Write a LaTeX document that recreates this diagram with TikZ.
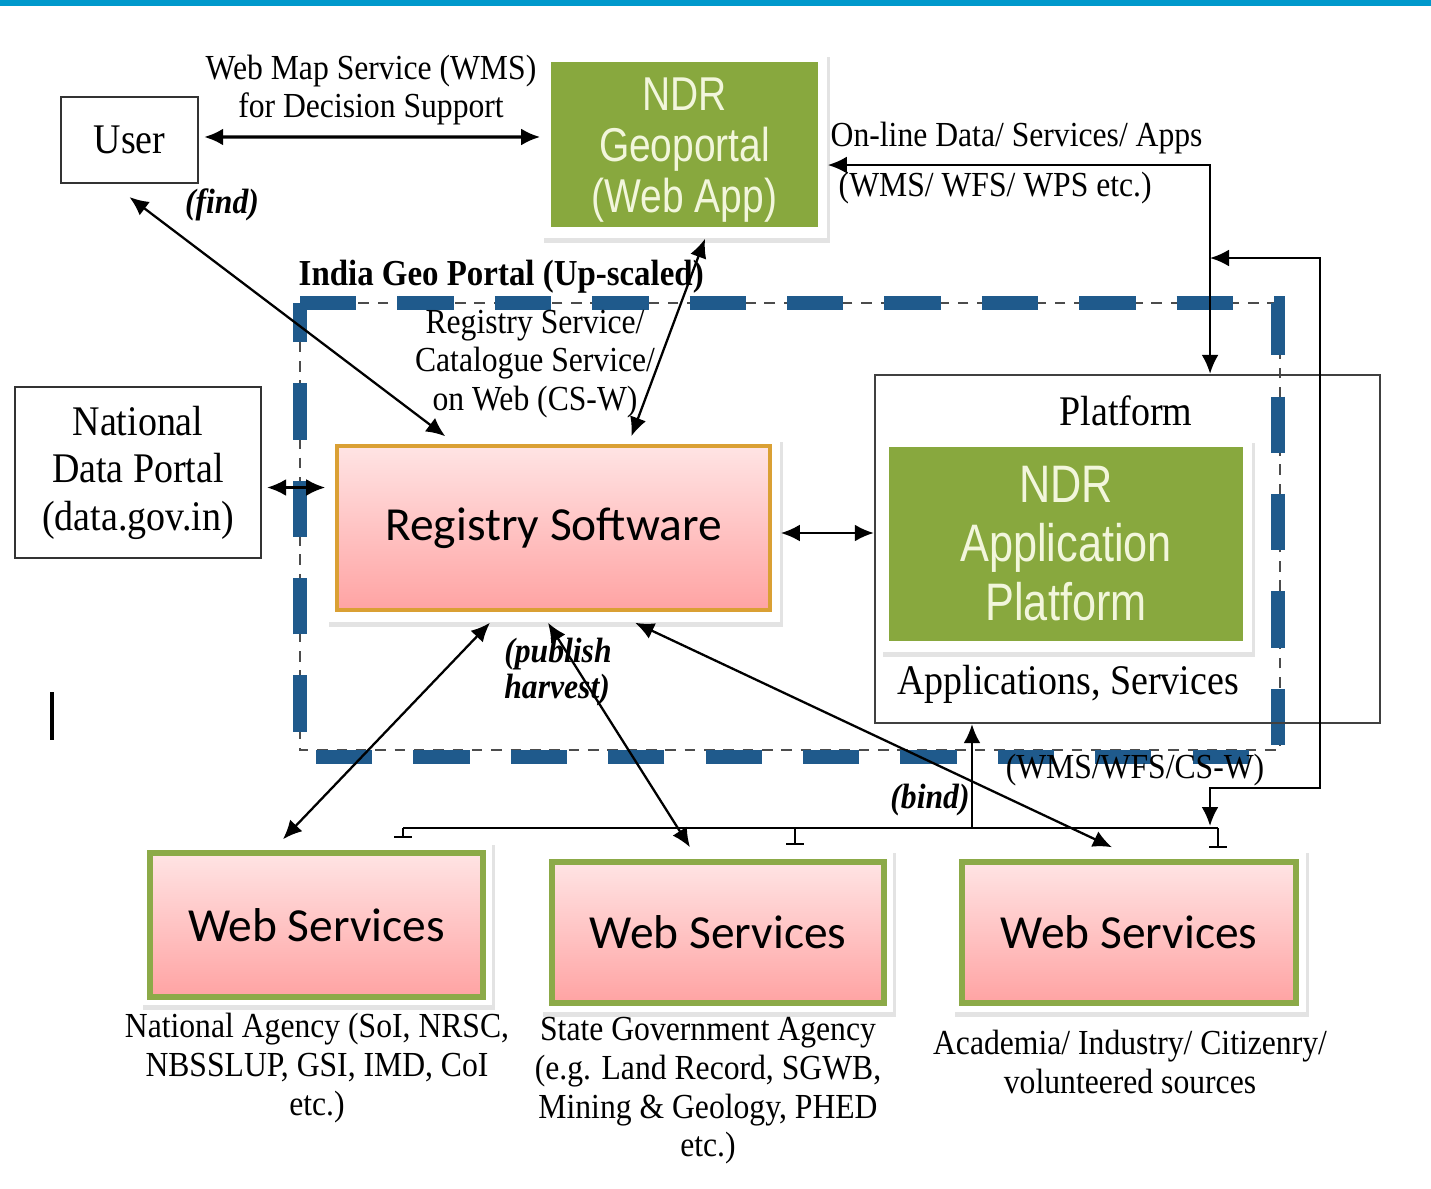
\documentclass[tikz,border=0pt]{standalone}
\usepackage{fontspec}
\setmainfont[FakeStretch=0.9]{Liberation Serif}
\newfontfamily\ndrfont[FakeStretch=0.82]{Liberation Sans}
\newfontfamily\calfont{Carlito}
\usetikzlibrary{arrows.meta,shadows}
\definecolor{ndrgreen}{RGB}{136,168,62}
\definecolor{ndrtext}{RGB}{242,246,220}
\definecolor{wsgreen}{RGB}{140,170,72}
\definecolor{pinktop}{RGB}{255,228,228}
\definecolor{pinkbot}{RGB}{255,163,163}
\definecolor{regborder}{RGB}{218,160,52}
\definecolor{igpblue}{RGB}{31,90,140}
\definecolor{topband}{RGB}{0,153,204}

\begin{document}
\begin{tikzpicture}[x=0.01cm, y=-0.01cm, every node/.style={font=\fontsize{10}{11}\selectfont},
	lbl/.style={align=center, inner sep=0pt},
	wbox/.style={draw=black!80, line width=0.6pt, fill=white, align=center, inner sep=0pt},
	frm/.style={fill=white, inner sep=0pt, drop shadow={shadow xshift=0.8pt, shadow yshift=-1.3pt, opacity=0.22}},
	gbox/.style={fill=ndrgreen, text=ndrtext, align=center, inner sep=0pt},
	pbox/.style={top color=pinktop, bottom color=pinkbot, inner sep=0pt, font=\calfont\fontsize{13.5}{16}\selectfont},
	link/.style={{Latex[length=5.4pt,width=4.8pt]}-{Latex[length=5.4pt,width=4.8pt]}, line width=0.65pt},
	stub/.style={-{Bar[width=5pt]}, line width=0.6pt},
	emph/.style={lbl, font=\bfseries\itshape\fontsize{10}{10}\selectfont}]
	\useasboundingbox (0,0) rectangle (1431,1188);
	\fill[topband] (0,0) rectangle (1431,6);
	% India Geo Portal boundary
	\draw[black!70, line width=0.5pt, dash pattern=on 3pt off 2.5pt] (300,303) rectangle (1280,750);
	\draw[igpblue, line width=4pt, dash pattern=on 16pt off 11.7pt] (300,303) -- (1278,303) -- (1278,757) -- (300,757) -- cycle;
	\node[lbl, anchor=west, font=\bfseries\fontsize{10.4}{12}\selectfont] (igp) at (298,277) {India Geo Portal (Up-scaled)};
	\node[lbl] (csw) at (535,364) {Registry Service/\\Catalogue Service/\\on Web (CS-W)};
	% boxes
	\node[wbox, minimum width=1.37cm, minimum height=0.86cm, font=\fontsize{12}{13.5}\selectfont] (user) at (129.5,140) {User};
	\node[frm, minimum width=2.86cm, minimum height=1.86cm] (geoF) at (684,145) {};
	\node[gbox, minimum width=2.67cm, minimum height=1.65cm] (geo) at (684.5,144.5) {};
	\node[lbl, text=ndrtext, font=\ndrfont\fontsize{13.5}{14.5}\selectfont] (geoT) at (684.5,150) {NDR\\Geoportal\\(Web App)};
	\node[wbox, minimum width=2.46cm, minimum height=1.71cm, font=\fontsize{12}{13.5}\selectfont] (ndp) at (138,472.5) {National\\Data Portal\\(data.gov.in)};
	\node[frm, minimum width=4.54cm, minimum height=1.85cm] (regF) at (553,529.5) {};
	\node[pbox, draw=regborder, line width=1.1pt, minimum width=4.33cm, minimum height=1.64cm] (reg) at (553.5,528) {Registry Software};
	\node[draw=black!75, line width=0.6pt, minimum width=5.05cm, minimum height=3.48cm] (plat) at (1127.5,549) {};
	\node[lbl, font=\fontsize{12}{13}\selectfont] (platT) at (1126,411) {Platform};
	\node[frm, minimum width=3.72cm, minimum height=2.14cm] (appF) at (1066,545) {};
	\node[gbox, minimum width=3.54cm, minimum height=1.94cm, font=\ndrfont\fontsize{15}{16.8}\selectfont] (app) at (1066,544) {NDR\\Application\\Platform};
	\node[lbl, font=\fontsize{12}{13}\selectfont] (appT) at (1068,684) {Applications, Services};
	\node[frm, minimum width=3.52cm, minimum height=1.65cm] (ws1F) at (316,922.5) {};
	\node[pbox, draw=wsgreen, line width=1.7pt, minimum width=3.33cm, minimum height=1.44cm] (ws1) at (316.5,925) {Web Services};
	\node[frm, minimum width=3.53cm, minimum height=1.64cm] (ws2F) at (716.5,930) {};
	\node[pbox, draw=wsgreen, line width=1.7pt, minimum width=3.32cm, minimum height=1.41cm] (ws2) at (718,932.5) {Web Services};
	\node[frm, minimum width=3.54cm, minimum height=1.64cm] (ws3F) at (1129,930) {};
	\node[pbox, draw=wsgreen, line width=1.7pt, minimum width=3.34cm, minimum height=1.41cm] (ws3) at (1129,932.5) {Web Services};
	\node[lbl] (cap1) at (317,1068) {National Agency (SoI, NRSC,\\NBSSLUP, GSI, IMD, CoI\\etc.)};
	\node[lbl] (cap2) at (708,1091) {State Government Agency\\(e.g. Land Record, SGWB,\\Mining \& Geology, PHED\\etc.)};
	\node[lbl] (cap3) at (1130,1062) {Academia/ Industry/ Citizenry/\\volunteered sources};
	% connectors
	\draw[link, line width=0.9pt] ([xshift=0.05cm,yshift=0.03cm]user.east) -- ([yshift=0.08cm]geoF.west);
	\node[lbl] (wms) at (371,90) {Web Map Service (WMS)\\for Decision Support};
	\draw[link] ([xshift=1.2cm]regF.north west) -- ([yshift=-0.13cm]user.south);
	\node[emph] (find) at (222,205) {(find)};
	\draw[link] ([xshift=3.06cm]regF.north west) -- ([xshift=0.21cm]geoF.south);
	\draw[link] ([xshift=0.05cm,yshift=-0.15cm]ndp.east) -- ([yshift=-0.15cm]ndp.east -| regF.west);
	\draw[link] ([yshift=-0.035cm]regF.east) -- ([yshift=-0.035cm]regF.east -| plat.west);
	\coordinate (olTop) at ([xshift=0.825cm]plat.north);
	\draw[link] (olTop) |- ([yshift=-0.2cm]geoF.east);
	\node[lbl, anchor=west] (ol1) at (830,138) {On-line Data/ Services/ Apps};
	\node[lbl, anchor=west] (ol2) at (838,188) {(WMS/ WFS/ WPS etc.)};
	% bus to web services
	\coordinate (busL) at (403,828);
	\coordinate (busM) at (795,828);
	\coordinate (busR) at (1218,828);
	\coordinate (bindB) at (972,828);
	\draw[line width=0.6pt] (busL) -- (busR);
	\draw[stub] (busL) -- ++(0,10);
	\draw[stub] (busM) -- ++(0,17);
	\draw[stub] (busR) -- ++(0,20);
	\draw[-{Latex[length=5.4pt,width=4.8pt]}, line width=0.65pt] (bindB) -- (bindB |- plat.south);
	\node[emph] (bind) at (930,800) {(bind)};
	\coordinate (loopTop) at (1210,258);
	\coordinate (loopEnd) at (1210,826);
	\draw[link] (loopTop) -- ++(110,0) -- ++(0,530) -- ++(-110,0) -- (loopEnd);
	\node[lbl] (wfs) at (1135,770) {(WMS/WFS/CS-W)};
	\draw[link] ([xshift=-0.63cm]regF.south) -- ([xshift=-0.33cm]ws1F.north);
	\draw[link] ([xshift=-0.05cm]regF.south) -- ([xshift=-0.265cm]ws2F.north);
	\draw[link] ([xshift=0.82cm]regF.south) -- ([xshift=-0.17cm]ws3F.north);
	\node[emph, align=left] (pub) at (558,672) {(publish\\harvest)};
	\draw[line width=1pt] (52,692) -- (52,740);
\end{tikzpicture}
\end{document}
